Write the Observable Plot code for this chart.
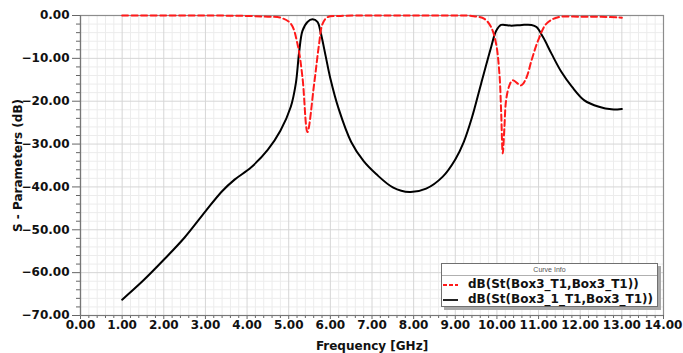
<!DOCTYPE html>
<html>
<head>
<meta charset="utf-8">
<script src="https://cdn.jsdelivr.net/npm/d3@7"></script>
<script src="https://cdn.jsdelivr.net/npm/@observablehq/plot@0.6"></script>
<style>
  html, body { margin: 0; padding: 0; background: #fff; }
  #wrap { position: relative; width: 683px; height: 353px; font-family: "DejaVu Sans", sans-serif; }
  #legend { position: absolute; left: 441px; top: 263px; width: 215px; height: 42px; background: #fff;
            border: 1px solid #707070; box-shadow: 3px 3px 0 #a8a8a8; }
  #legend .hdr { font-family: "Liberation Sans", Arial, sans-serif; font-size: 7px; color: #555; text-align: center;
                 height: 11px; line-height: 11px; border-bottom: 1px solid #b0b0b0; }
  #legend .row { position: relative; height: 15px; line-height: 16px; font-weight: bold; font-size: 12px; color: #111; white-space: nowrap; }
  #legend .row svg { position: absolute; left: 1px; top: 7px; }
  #legend .row span { position: absolute; left: 26px; top: 0; }
</style>
</head>
<body>
<div id="wrap"></div>
<script>
// ---- data ----
const s11Freq = [1.0, 2.0, 3.0, 4.0, 4.5, 4.8, 5.05, 5.21, 5.33, 5.45, 5.61, 5.73, 5.81, 5.93, 6.25, 7.0, 8.0, 9.0, 9.4, 9.7, 9.86, 9.98, 10.06, 10.1, 10.14, 10.18, 10.22, 10.3, 10.38, 10.58, 10.7, 10.83, 10.99, 11.19, 11.47, 12.0, 12.5, 13.0];
const s11dB   = [0.0, 0.0, 0.0, -0.1, -0.3, -0.5, -1.9, -6.6, -14.4, -27.2, -16.0, -6.6, -2.0, -0.4, -0.1, 0.0, 0.0, 0.0, -0.1, -0.8, -2.7, -6.6, -13.6, -22.1, -32.2, -26.0, -19.8, -16.3, -15.1, -16.3, -14.7, -10.5, -5.8, -1.9, -0.4, -0.3, -0.3, -0.5];

const s21Freq = [1.0, 1.5, 2.0, 2.5, 3.0, 3.4, 3.7, 4.1, 4.5, 4.8, 5.05, 5.17, 5.25, 5.33, 5.45, 5.57, 5.69, 5.77, 5.89, 6.0, 6.2, 6.5, 6.8, 7.1, 7.5, 7.9, 8.3, 8.7, 9.0, 9.2, 9.4, 9.62, 9.86, 9.98, 10.1, 10.35, 10.6, 10.83, 10.95, 11.11, 11.31, 11.55, 11.8, 12.1, 12.45, 12.75, 13.0];
const s21dB   = [-66.3, -61.9, -57.0, -51.8, -45.7, -41.0, -38.3, -35.4, -31.3, -26.9, -21.3, -15.9, -8.6, -3.6, -1.5, -0.9, -1.5, -4.1, -9.6, -14.7, -21.8, -29.5, -34.0, -37.0, -40.1, -41.2, -40.4, -37.6, -33.6, -29.6, -23.8, -15.9, -7.4, -3.6, -2.2, -2.4, -2.2, -2.2, -2.7, -5.1, -8.9, -13.2, -16.6, -19.8, -21.3, -21.9, -21.8];

const s11Name = "dB(St(Box3_T1,Box3_T1))";
const s21Name = "dB(St(Box3_1_T1,Box3_T1))";

const xMajor = [0, 1, 2, 3, 4, 5, 6, 7, 8, 9, 10, 11, 12, 13, 14];
const yMajor = [0, -10, -20, -30, -40, -50, -60, -70];

// ---- build ----
const s11 = s11Freq.map((f, i) => ({f, v: s11dB[i]}));
const s21 = s21Freq.map((f, i) => ({f, v: s21dB[i]}));
const xMinor = d3.range(0, 14.0001, 0.2).map(v => +v.toFixed(2)).filter(v => Math.abs(v - Math.round(v)) > 1e-6);
const yMinor = d3.range(-70, 0.0001, 2).filter(v => v % 10 !== 0);

const fmt = d3.format(".2f");

const chart = Plot.plot({
  width: 683,
  height: 353,
  marginLeft: 80,
  marginRight: 20,
  marginTop: 15,
  marginBottom: 38,
  style: {fontFamily: "DejaVu Sans", fontSize: "12px", fontWeight: "bold", color: "#111", background: "#fff"},
  x: {domain: [0, 14]},
  y: {domain: [-70, 0]},
  marks: [
    Plot.ruleX(xMinor, {stroke: "#ececec", strokeWidth: 1}),
    Plot.ruleY(yMinor, {stroke: "#ececec", strokeWidth: 1}),
    Plot.ruleX(xMajor, {stroke: "#d6d6d6", strokeWidth: 1}),
    Plot.ruleY(yMajor, {stroke: "#d6d6d6", strokeWidth: 1}),
    Plot.frame({stroke: "#8c8c8c", strokeWidth: 1.2}),
    Plot.axisY(yMinor, {tickSize: 4, tickFormat: () => "", stroke: "#666", label: null}),
    Plot.axisX(xMinor, {tickSize: 3, tickFormat: () => "", stroke: "#666", label: null}),
    Plot.axisY(yMajor, {tickSize: 8, tickPadding: 3, tickFormat: fmt, stroke: "#666",
      label: "S - Parameters (dB)", labelAnchor: "center", labelArrow: "none", labelOffset: 67}),
    Plot.axisX(xMajor, {tickSize: 4, tickPadding: 1, tickFormat: fmt, stroke: "#666",
      label: "Frequency [GHz]", labelAnchor: "center", labelArrow: "none", labelOffset: 34}),
    Plot.ruleX([0], {stroke: "#777", strokeWidth: 1.2}),
    Plot.ruleY([-70], {stroke: "#777", strokeWidth: 1.2}),
    Plot.line(s21, {x: "f", y: "v", stroke: "#000", strokeWidth: 2, curve: "catmull-rom"}),
    Plot.line(s11, {x: "f", y: "v", stroke: "#ff1a1a", strokeWidth: 2, strokeDasharray: "6,3.5", curve: "catmull-rom"})
  ]
});

const wrap = document.getElementById("wrap");
wrap.appendChild(chart);

// legend overlay
const legend = document.createElement("div");
legend.id = "legend";
legend.innerHTML = `
  <div class="hdr">Curve Info</div>
  <div class="row"><svg width="20" height="4"><line x1="0" y1="2" x2="15" y2="2" stroke="#ff1a1a" stroke-width="2" stroke-dasharray="4,2"/></svg><span></span></div>
  <div class="row"><svg width="20" height="4"><line x1="0" y1="2" x2="15" y2="2" stroke="#222" stroke-width="2"/></svg><span></span></div>`;
const spans = legend.querySelectorAll(".row span");
spans[0].textContent = s11Name;
spans[1].textContent = s21Name;
wrap.appendChild(legend);
</script>
</body>
</html>
